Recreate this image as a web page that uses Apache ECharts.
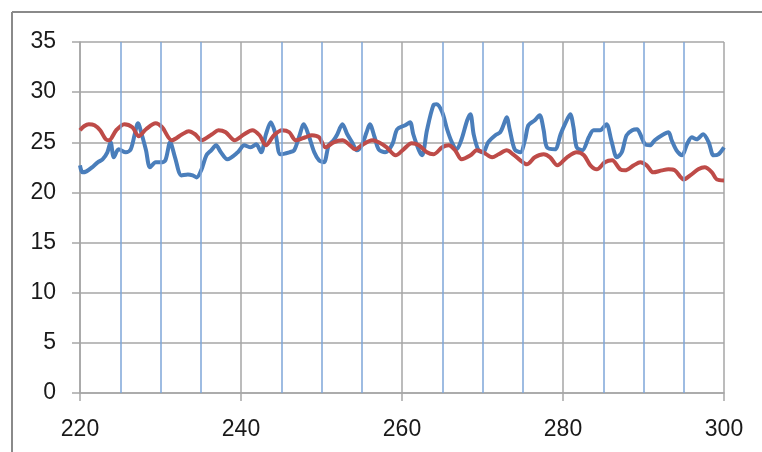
<!DOCTYPE html>
<html>
<head>
<meta charset="utf-8">
<script src="https://cdn.jsdelivr.net/npm/echarts@6/dist/echarts.min.js"></script>
<style>
html,body{margin:0;padding:0;background:#fff;}
#chart{width:762px;height:452px;}
</style>
</head>
<body>
<div id="chart"></div>
<script>
var xTicks = [220, 240, 260, 280, 300];
var yTicks = [0, 5, 10, 15, 20, 25, 30, 35];
var markerLinesX = [225, 230, 235, 245, 250, 255, 265, 270, 275, 285, 290, 295];

var blueX = [220.0,220.3,220.8,221.5,222.2,222.8,223.4,223.8,224.2,224.8,225.7,226.3,226.8,227.2,227.7,228.2,228.7,229.4,230.0,230.6,231.2,231.8,232.6,233.4,234.0,234.5,235.1,235.7,236.3,236.9,237.5,238.3,239.6,240.4,241.2,241.9,242.5,243.1,243.7,244.3,244.9,246.0,246.6,247.2,247.8,248.4,249.1,249.7,250.3,250.9,251.5,251.9,252.6,253.2,253.8,254.4,255.0,255.6,256.0,256.6,257.1,257.9,258.8,259.4,260.4,261.0,261.4,262.1,262.5,263.1,263.9,264.3,265.0,265.6,266.2,266.8,267.4,268.1,268.5,268.9,269.5,270.1,270.7,271.6,272.2,272.6,273.0,273.4,274.0,274.7,275.3,275.7,276.5,277.1,277.6,278.0,279.0,279.7,280.3,280.9,281.3,281.7,282.4,283.2,283.8,284.6,285.4,286.0,286.7,287.3,287.9,288.6,289.2,289.6,290.2,290.8,291.4,292.3,293.1,293.5,294.1,294.8,295.4,296.0,296.6,297.4,298.1,298.7,299.3,300.0];
var blueY = [22.7,22.0,22.1,22.5,23.0,23.3,24.0,25.0,23.5,24.3,24.0,24.3,25.8,26.9,25.7,24.2,22.5,23.0,23.0,23.2,25.0,23.5,21.7,21.8,21.7,21.5,22.3,23.7,24.2,24.7,24.0,23.3,24.0,24.7,24.5,24.8,24.0,25.8,27.0,25.8,23.8,24.0,24.2,25.5,26.8,25.7,24.0,23.2,23.0,24.7,25.2,25.7,26.8,25.8,25.0,24.2,24.7,26.0,26.8,25.5,24.3,24.0,24.8,26.3,26.7,27.0,25.8,24.2,23.7,26.2,28.7,28.8,28.0,26.3,25.0,24.3,25.3,27.2,27.8,25.8,24.2,24.0,25.0,25.7,26.0,26.7,27.5,26.2,24.3,24.0,25.3,26.7,27.2,27.7,26.2,24.5,24.3,25.8,26.9,27.8,26.5,24.5,24.2,25.5,26.2,26.2,26.8,25.2,23.5,24.0,25.7,26.2,26.3,25.8,24.8,24.7,25.2,25.7,26.0,25.2,24.2,23.7,24.8,25.5,25.3,25.8,25.0,23.7,23.8,24.5];

var redX = [220.0,220.5,221.1,221.8,222.5,223.2,223.6,224.5,225.5,226.5,227.3,228.2,229.4,230.2,231.4,232.7,233.5,234.3,235.1,236.4,237.2,238.1,239.2,240.4,241.4,242.3,243.1,244.1,245.1,246.0,246.8,248.0,248.8,249.7,250.5,251.5,252.6,253.4,254.2,255.0,256.3,257.1,258.1,259.2,260.2,261.2,262.1,263.1,263.9,265.0,265.8,266.6,267.4,268.5,269.3,270.1,271.2,272.0,273.0,273.8,274.7,275.5,276.5,277.6,278.4,279.3,280.5,281.7,282.6,283.4,284.2,285.2,286.1,287.1,287.7,288.8,289.6,290.4,291.2,292.3,293.1,293.9,295.0,295.8,296.8,297.6,298.5,299.1,300.0];
var redY = [26.2,26.6,26.8,26.7,26.2,25.3,25.2,26.2,26.8,26.5,25.6,26.3,26.9,26.5,25.2,25.8,26.1,25.8,25.2,25.8,26.2,26.0,25.2,25.8,26.2,25.7,24.7,25.7,26.2,26.0,25.2,25.5,25.7,25.5,24.5,25.0,25.2,24.8,24.3,24.7,25.2,25.0,24.5,23.7,24.3,24.9,24.7,24.0,23.8,24.5,24.7,24.2,23.3,23.7,24.2,24.0,23.5,23.8,24.2,23.8,23.2,22.8,23.5,23.8,23.5,22.7,23.5,24.0,23.7,22.7,22.3,23.0,23.2,22.3,22.2,22.7,23.0,22.7,22.0,22.2,22.3,22.2,21.3,21.7,22.3,22.5,22.0,21.3,21.2];

function zip(a, b) { return a.map(function (v, i) { return [v, b[i]]; }); }

var chart = echarts.init(document.getElementById('chart'), null, {renderer: 'canvas'});
var labelFont = {fontFamily: 'Liberation Sans', fontSize: 23, color: '#1a1a1a'};
chart.setOption({
  backgroundColor: '#ffffff',
  animation: false,
  grid: {left: 80, right: 38, top: 42, bottom: 59},
  graphic: [
    {type: 'line', shape: {x1: 12, y1: 12, x2: 12, y2: 452}, style: {stroke: '#8a8a8a', lineWidth: 2}},
    {type: 'line', shape: {x1: 12, y1: 12, x2: 762, y2: 12}, style: {stroke: '#8a8a8a', lineWidth: 2}}
  ],
  xAxis: {
    type: 'value', min: xTicks[0], max: xTicks[xTicks.length - 1], interval: 20,
    axisLine: {show: true, onZero: false, lineStyle: {color: '#a6a6a6', width: 1.5}},
    axisTick: {show: true, length: 8, lineStyle: {color: '#a6a6a6', width: 1.5}},
    axisLabel: Object.assign({margin: 25}, labelFont),
    splitLine: {show: true, lineStyle: {color: '#a6a6a6', width: 1.5}}
  },
  yAxis: {
    type: 'value', min: yTicks[0], max: yTicks[yTicks.length - 1], interval: 5,
    axisLine: {show: true, lineStyle: {color: '#a6a6a6', width: 1.5}},
    axisTick: {show: true, length: 8, lineStyle: {color: '#a6a6a6', width: 1.5}},
    axisLabel: Object.assign({margin: 24}, labelFont),
    splitLine: {show: true, lineStyle: {color: '#a6a6a6', width: 1.5}}
  },
  series: [
    {
      type: 'line', data: [], z: 1, silent: true,
      markLine: {
        silent: true, symbol: 'none', animation: false,
        label: {show: false},
        lineStyle: {color: '#7ea6d8', width: 1.5, type: 'solid'},
        data: markerLinesX.map(function (v) { return {xAxis: v}; })
      }
    },
    {
      type: 'line', data: zip(blueX, blueY), z: 3, showSymbol: false, smooth: 0.3,
      lineStyle: {color: '#4a7ebb', width: 4}
    },
    {
      type: 'line', data: zip(redX, redY), z: 4, showSymbol: false, smooth: 0.3,
      lineStyle: {color: '#be4b48', width: 4}
    }
  ]
});
</script>
</body>
</html>
